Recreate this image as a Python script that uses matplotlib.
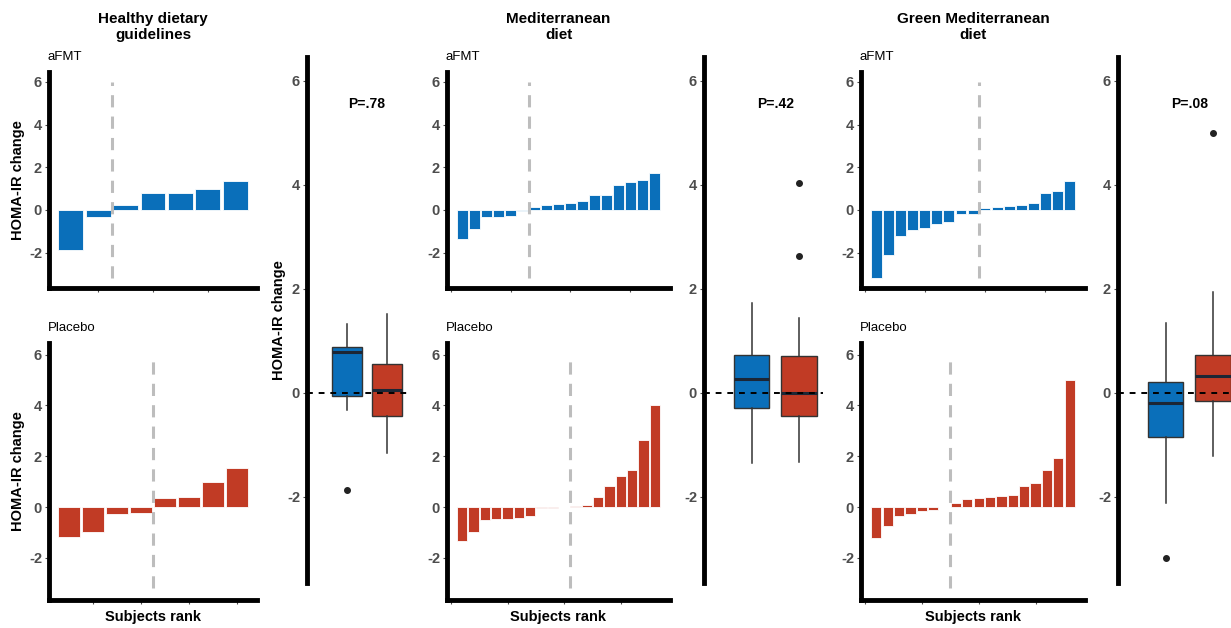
import matplotlib
matplotlib.use("Agg")
import matplotlib.pyplot as plt
from matplotlib.ticker import MultipleLocator
import numpy as np

plt.rcParams['font.family'] = ['Liberation Sans', 'DejaVu Sans']

#
# Data (HOMA-IR change per subject)
#
diets = ["Healthy dietary\nguidelines", "Mediterranean\ndiet", "Green Mediterranean\ndiet"]
p_values = ["P=.78", "P=.42", "P=.08"]
arms = ["aFMT", "Placebo"]

hdg_afmt = [-1.88, -0.34, 0.23, 0.79, 0.79, 0.96, 1.33]
hdg_placebo = [-1.16, -0.99, -0.27, -0.25, 0.34, 0.41, 0.99, 1.52]

med_afmt = [-1.36, -0.89, -0.35, -0.34, -0.30, -0.03, 0.12, 0.22, 0.27, 0.32,
            0.42, 0.69, 0.72, 1.16, 1.31, 1.38, 1.72]
med_placebo = [-1.33, -1.00, -0.52, -0.47, -0.46, -0.42, -0.37, -0.03, -0.02, 0.0,
               0.06, 0.10, 0.39, 0.81, 1.22, 1.44, 2.64, 4.03]

green_afmt = [-3.17, -2.13, -1.22, -0.96, -0.86, -0.66, -0.58, -0.21, -0.19, 0.08,
              0.12, 0.16, 0.21, 0.31, 0.81, 0.89, 1.35]
green_placebo = [-1.22, -0.75, -0.36, -0.26, -0.16, -0.12, 0.0, 0.17, 0.30, 0.35,
                 0.39, 0.44, 0.46, 0.82, 0.94, 1.46, 1.94, 5.00]

groups = [(hdg_afmt, hdg_placebo), (med_afmt, med_placebo), (green_afmt, green_placebo)]

yticks = [-2, 0, 2, 4, 6]
ytick_labels = ["-2", "0", "2", "4", "6"]

BLUE = '#0A6FBA'
RED = '#C13B25'
TICK_GREY = '#4D4D4D'

W, H = 1231, 628

# layout in pixels
wf_x = [(49, 257), (447, 670), (861, 1085)]
box_x = [(307, 407), (704, 823), (1118, 1237)]
top_y = (72, 288)
bot_y = (343, 600)
box_y = (57, 583)


def add_px_axes(fig, xr, yr):
    return fig.add_axes([xr[0] / W, 1 - yr[1] / H, (xr[1] - xr[0]) / W, (yr[1] - yr[0]) / H])


def style_axis(ax, bottom=True):
    for s in ['top', 'right']:
        ax.spines[s].set_visible(False)
    ax.spines['left'].set_linewidth(3.5)
    ax.spines['left'].set_capstyle('projecting')
    if bottom:
        ax.spines['bottom'].set_linewidth(3.5)
        ax.spines['bottom'].set_capstyle('projecting')
    else:
        ax.spines['bottom'].set_visible(False)
    ax.set_ylim(-3.66, 6.46)
    ax.set_yticks(yticks)
    ax.set_yticklabels(ytick_labels, fontweight='bold', fontsize=10.5, color=TICK_GREY)
    ax.tick_params(axis='both', length=3, width=0.8, color=TICK_GREY, pad=2)


def waterfall(ax, values, color):
    values = np.sort(np.array(values))
    n = len(values)
    x = np.arange(1, n + 1)
    ax.bar(x, values, width=0.9, color=color, edgecolor='white', linewidth=0.6)
    # split between non-positive and positive responders
    cut = np.sum(values <= 0) + 0.5
    ax.vlines(cut, -3.2, 6, colors='#BDBDBD', linestyles=(0, (4, 3)), linewidth=2.2)
    pad = 0.05 * (n - 0.1)
    ax.set_xlim(0.55 - pad, n + 0.45 + pad)
    style_axis(ax)
    ax.xaxis.set_major_locator(MultipleLocator(2 if n < 10 else 5))
    ax.set_xticklabels([])


fig = plt.figure(figsize=(W / 100, H / 100), dpi=100)

for g, (afmt, placebo) in enumerate(groups):
    cx = (wf_x[g][0] + wf_x[g][1]) / 2
    fig.text(cx / W, 1 - 27 / H, diets[g], ha='center', va='center',
             fontweight='bold', fontsize=11, linespacing=1.25)

    #
    # Waterfall panels
    #
    ax_top = add_px_axes(fig, wf_x[g], top_y)
    waterfall(ax_top, afmt, BLUE)
    fig.text((wf_x[g][0] - 1) / W, 1 - 57 / H, arms[0], ha='left', va='center', fontsize=9.5)

    ax_bot = add_px_axes(fig, wf_x[g], bot_y)
    waterfall(ax_bot, placebo, RED)
    fig.text((wf_x[g][0] - 1) / W, 1 - 328 / H, arms[1], ha='left', va='center', fontsize=9.5)
    ax_bot.set_xlabel("Subjects rank", fontweight='bold', fontsize=10.5, labelpad=2)

    if g == 0:
        for a in (ax_top, ax_bot):
            a.set_ylabel("HOMA-IR change", fontweight='bold', fontsize=10.5)
            a.yaxis.set_label_coords(-24 / 208, 0.5)

    #
    # Box plots
    #
    ax_box = add_px_axes(fig, box_x[g], box_y)
    bp = ax_box.boxplot([afmt, placebo], positions=[1, 2], widths=0.75, patch_artist=True,
                        showcaps=False,
                        medianprops=dict(color='#1C2635', linewidth=2.2),
                        whiskerprops=dict(color='#333333', linewidth=1.1),
                        boxprops=dict(edgecolor='#333333', linewidth=1.0),
                        flierprops=dict(marker='o', markerfacecolor='#222222',
                                        markeredgecolor='#222222', markersize=4))
    for patch, c in zip(bp['boxes'], [BLUE, RED]):
        patch.set_facecolor(c)
    ax_box.axhline(0, color='black', linestyle=(0, (3, 3)), linewidth=1.4, zorder=5)
    ax_box.set_xlim(0, 2.5)
    style_axis(ax_box, bottom=False)
    ax_box.set_xticks([])
    ax_box.text(1.5, 5.55, p_values[g], ha='center', va='center', fontweight='bold', fontsize=10)
    if g == 0:
        ax_box.set_ylabel("HOMA-IR change", fontweight='bold', fontsize=10.5)
        ax_box.yaxis.set_label_coords(-0.21, 0.5)

fig.savefig("out.png", dpi=100)
